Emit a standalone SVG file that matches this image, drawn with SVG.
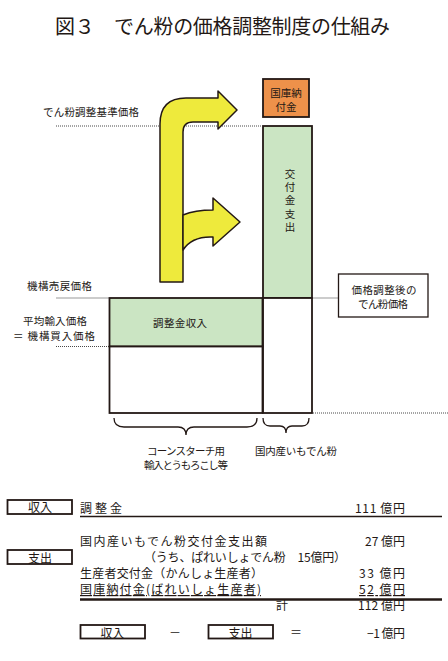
<svg xmlns="http://www.w3.org/2000/svg" width="448" height="661" viewBox="0 0 448 661">
<style>
text{font-family:"Noto Sans CJK JP","Noto Sans",sans-serif;fill:#231815}
.t{font-size:20px}
.s{font-size:10.5px}
.m{font-size:12px}
.box{stroke:#231815;stroke-width:1.8}
.arrow{fill:#EEEA3C;stroke:#231815;stroke-width:1.5;stroke-linejoin:round}
.dot{stroke:#333;stroke-width:0.9;stroke-dasharray:1 1;fill:none}
.gray{stroke:#999;stroke-width:1;fill:none}
.brace{stroke:#231815;stroke-width:1.3;fill:none}
.lbox{fill:#fff;stroke:#231815;stroke-width:1.8}
</style>
<rect width="448" height="661" fill="#fff"/>
<text class="t" x="55" y="34" textLength="335">図３　でん粉の価格調整制度の仕組み</text>

<g id="connectors">
<line class="dot" x1="56" y1="126" x2="262" y2="126"/>
<line class="gray" x1="56" y1="298" x2="109" y2="298"/>
<line class="gray" x1="313" y1="298" x2="338" y2="298"/>
<line class="dot" x1="56" y1="346.5" x2="109" y2="346.5"/>
<line class="dot" x1="313" y1="413" x2="448" y2="413"/>
<path class="brace" d="M114,418 Q114,427 124,427 L178,427 Q186,427 186,435 Q186,427 194,427 L247,427 Q257,427 257,418"/>
<path class="brace" d="M263,418 Q263,426 270,426 L280,426 Q286,426 286,433 Q286,426 292,426 L302,426 Q309,426 309,418"/>
</g>

<g id="arrow-big">
<path class="arrow" d="M160,282 L160,124 Q160,98 186,98 L218,98 L218,91 L237,110 L218,129 L218,122 L193,122 Q183,122 183,132 L183,282 Z"/>
</g>
<g id="arrow-small">
<path class="arrow" d="M183,215 Q195,210 213,210 L213,198 L240,222 L213,246 L213,237 Q192,236 183,250 Z"/>
</g>

<g id="label-kijun"><text class="s" x="43" y="116" textLength="96">でん粉調整基準価格</text></g>
<g id="label-urimodoshi"><text class="s" x="27" y="290" textLength="65">機構売戻価格</text></g>
<g id="label-heikin">
<text class="s" x="23" y="325" textLength="64">平均輸入価格</text>
<text class="s" x="13" y="340" textLength="82">＝ 機構買入価格</text>
</g>

<g id="node-kokko">
<rect x="263" y="79" width="46" height="38" fill="#EE914A" class="box"/>
<text class="s" text-anchor="middle"><tspan x="286" y="97">国庫納</tspan><tspan x="286" y="111">付金</tspan></text>
</g>

<g id="node-kofukin">
<rect x="263" y="126" width="49" height="172" fill="#CBE5C3" class="box"/>
<text class="s" x="290" y="169" style="writing-mode:vertical-rl;letter-spacing:2.6px">交付金支出</text>
</g>
<g id="node-imo">
<rect x="263" y="298" width="49" height="115" fill="#fff" class="box"/>
</g>
<g id="node-chosei">
<rect x="109.5" y="298" width="153" height="48.5" fill="#CBE5C3" class="box"/>
<text class="s" x="180" y="327" text-anchor="middle" textLength="54">調整金収入</text>
</g>
<g id="node-import">
<rect x="109.5" y="346.5" width="153" height="66.5" fill="#fff" class="box"/>
</g>

<g id="node-after">
<rect x="338.5" y="274" width="89.5" height="43" fill="#fff" stroke="#231815" stroke-width="1.3"/>
<text class="s" x="384" y="293.5" text-anchor="middle" textLength="65">価格調整後の</text>
<text class="s" x="383" y="307.5" text-anchor="middle" textLength="50">でん粉価格</text>
</g>

<g id="label-corn">
<text class="s" x="186" y="455" text-anchor="middle" textLength="78">コーンスターチ用</text>
<text class="s" x="186" y="469" text-anchor="middle" textLength="84">輸入とうもろこし等</text>
</g>
<g id="label-imo"><text class="s" x="296" y="455" text-anchor="middle" textLength="82">国内産いもでん粉</text></g>

<g id="table">
<rect class="lbox" x="7.5" y="500" width="64.5" height="14"/>
<text class="m" x="40" y="512" text-anchor="middle">収入</text>
<rect class="lbox" x="7.5" y="550" width="64.5" height="14"/>
<text class="m" x="40" y="563" text-anchor="middle">支出</text>

<text class="m" x="80" y="513" textLength="42">調整金</text>
<text class="m" x="355" y="513" textLength="50">111 億円</text>
<line x1="80" y1="516.5" x2="442" y2="516.5" stroke="#231815" stroke-width="1.6"/>

<text class="m" x="80" y="546" textLength="187">国内産いもでん粉交付金支出額</text>
<text class="m" x="365" y="546" textLength="40">27 億円</text>
<text class="m" x="144" y="562" textLength="202">（うち、ぱれいしょでん粉　15億円）</text>
<text class="m" x="80" y="578" textLength="183">生産者交付金（かんしょ生産者）</text>
<text class="m" x="359" y="578" textLength="46">33 億円</text>
<text class="m" x="80" y="594" textLength="181" text-decoration="underline">国庫納付金(ばれいしょ生産者)</text>
<text class="m" x="359" y="594" textLength="46" text-decoration="underline">52 億円</text>
<line x1="80" y1="599.5" x2="442" y2="599.5" stroke="#231815" stroke-width="2.4"/>
<text class="m" x="276" y="610">計</text>
<text class="m" x="358" y="610" textLength="47">112 億円</text>

<rect class="lbox" x="80.5" y="625" width="64.5" height="13.5"/>
<text class="m" x="112.5" y="638" text-anchor="middle">収入</text>
<text class="m" x="175" y="637" text-anchor="middle">－</text>
<rect class="lbox" x="208.5" y="625" width="64.5" height="13.5"/>
<text class="m" x="240.5" y="638" text-anchor="middle">支出</text>
<text class="m" x="296" y="637" text-anchor="middle">＝</text>
<text class="m" x="367" y="638" textLength="38">−1 億円</text>
</g>
</svg>
